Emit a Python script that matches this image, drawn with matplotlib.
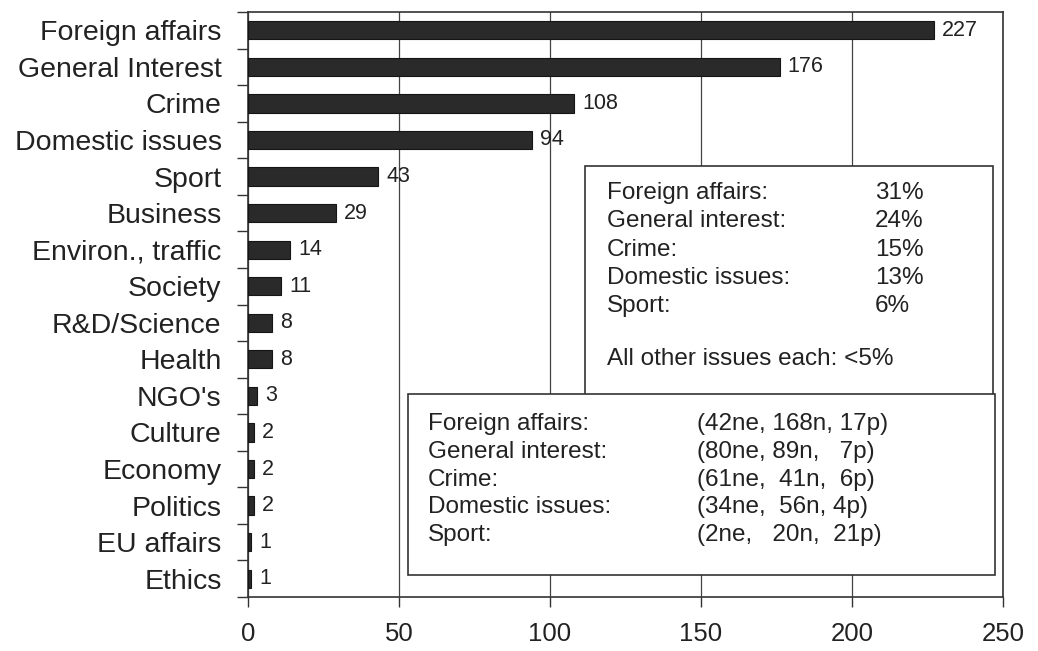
import matplotlib.pyplot as plt
from matplotlib.patches import Rectangle

plt.rcParams['font.family'] = ['Liberation Sans', 'DejaVu Sans']

# topics and number of articles
topics = ["Foreign affairs", "General Interest", "Crime", "Domestic issues",
          "Sport", "Business", "Environ., traffic", "Society", "R&D/Science",
          "Health", "NGO's", "Culture", "Economy", "Politics", "EU affairs",
          "Ethics"]
counts = [227, 176, 108, 94, 43, 29, 14, 11, 8, 8, 3, 2, 2, 2, 1, 1]

# share of the top five topics
share_names = ["Foreign affairs:", "General interest:", "Crime:",
               "Domestic issues:", "Sport:"]
share_pct = ["31%", "24%", "15%", "13%", "6%"]
share_note = "All other issues each: <5%"

# tone split of the top five topics
tone_names = ["Foreign affairs:", "General interest:", "Crime:",
              "Domestic issues:", "Sport:"]
tone_split = ["(42ne, 168n, 17p)", "(80ne, 89n,   7p)", "(61ne,  41n,  6p)",
              "(34ne,  56n, 4p)", "(2ne,   20n,  21p)"]

xticks = [0, 50, 100, 150, 200, 250]

W, H = 1038, 651
fig = plt.figure(figsize=(W/100, H/100), dpi=100)
ax = fig.add_axes([248/W, 1 - 597/H, (1003-248)/W, (597-12)/H])

ypos = list(range(len(topics)))
ax.barh(ypos, counts, height=0.5, color="#2a2a2a", edgecolor="#151515",
        linewidth=0.8, zorder=3)
for y, v in zip(ypos, counts):
    ax.text(v + 2.7, y, str(v), va="center", ha="left", fontsize=15.5,
            color="#222222", zorder=4)

ax.set_xlim(0, 250)
ax.set_ylim(len(topics) - 0.5, -0.5)
ax.set_xticks(xticks)
ax.set_xticklabels([str(t) for t in xticks], fontsize=18.5, color="#222222")
ax.tick_params(axis="x", direction="out", length=7, width=1, pad=11,
               colors="#333333", labelcolor="#222222")

# category names as labels, ticks at the bar boundaries
ax.set_yticks(ypos)
ax.set_yticklabels(topics, fontsize=20.5, color="#222222")
ax.tick_params(axis="y", which="major", length=0, pad=19)
ax.set_yticks([y + 0.5 for y in range(-1, len(topics))], minor=True)
ax.tick_params(axis="y", which="minor", direction="out", length=8, width=1,
               colors="#333333")

ax.grid(axis="x", color="#444444", linewidth=0.9, zorder=1)
for s in ax.spines.values():
    s.set_color("#333333")
    s.set_linewidth(1.2)

fs_box = 17.5

# first text box: shares
b1 = Rectangle((585/W, 1 - 395/H), (993-585)/W, (395-166)/H,
               transform=fig.transFigure, facecolor="white",
               edgecolor="#333333", linewidth=1.2, zorder=5)
fig.patches.append(b1)
for i, (n, p) in enumerate(zip(share_names, share_pct)):
    yy = 1 - (193 + i * 28.3) / H
    fig.text(607/W, yy, n, fontsize=fs_box, va="center", color="#222222", zorder=6)
    fig.text(875/W, yy, p, fontsize=fs_box, va="center", color="#222222", zorder=6)
fig.text(607/W, 1 - 359/H, share_note, fontsize=fs_box, va="center",
         color="#222222", zorder=6)

# second text box: tone split
b2 = Rectangle((408/W, 1 - 575/H), (995-408)/W, (575-394)/H,
               transform=fig.transFigure, facecolor="white",
               edgecolor="#333333", linewidth=1.2, zorder=7)
fig.patches.append(b2)
for i, (n, t) in enumerate(zip(tone_names, tone_split)):
    yy = 1 - (424 + i * 27.8) / H
    fig.text(428/W, yy, n, fontsize=fs_box, va="center", color="#222222", zorder=8)
    fig.text(697/W, yy, t, fontsize=fs_box, va="center", color="#222222", zorder=8)

fig.savefig("out.png", dpi=100, facecolor="white")
